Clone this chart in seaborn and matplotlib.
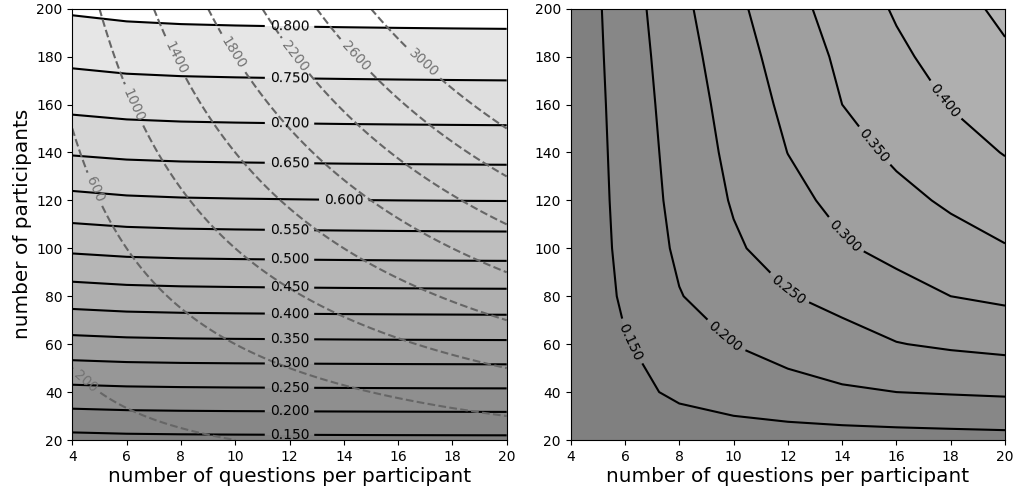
import numpy as np
import matplotlib
matplotlib.use("Agg")
import matplotlib.pyplot as plt
from matplotlib.colors import Normalize
import seaborn as sns

# ---------------- data ----------------
questions = [4, 6, 8, 10, 12, 14, 16, 18, 20]            # x grid
participants = [20, 40, 60, 80, 100, 120, 140, 160, 180, 200]  # y grid

# left panel field: one row per number of participants
left_values = [
    [0.1340, 0.1367, 0.1379, 0.1385, 0.1389, 0.1393, 0.1396, 0.1398, 0.1400],
    [0.2350, 0.2383, 0.2397, 0.2405, 0.2410, 0.2414, 0.2418, 0.2421, 0.2423],
    [0.3327, 0.3368, 0.3387, 0.3396, 0.3402, 0.3408, 0.3413, 0.3416, 0.3419],
    [0.4243, 0.4298, 0.4323, 0.4335, 0.4344, 0.4351, 0.4357, 0.4362, 0.4366],
    [0.5091, 0.5151, 0.5178, 0.5192, 0.5201, 0.5209, 0.5216, 0.5221, 0.5225],
    [0.5867, 0.5931, 0.5960, 0.5974, 0.5984, 0.5993, 0.6000, 0.6006, 0.6010],
    [0.6542, 0.6599, 0.6625, 0.6637, 0.6646, 0.6654, 0.6660, 0.6665, 0.6669],
    [0.7122, 0.7180, 0.7206, 0.7219, 0.7228, 0.7236, 0.7242, 0.7247, 0.7251],
    [0.7622, 0.7677, 0.7702, 0.7714, 0.7723, 0.7730, 0.7736, 0.7741, 0.7745],
    [0.8060, 0.8116, 0.8141, 0.8154, 0.8163, 0.8170, 0.8176, 0.8181, 0.8185],
]

# right panel field
right_values = [
    [0.103, 0.113, 0.118, 0.1255, 0.1285, 0.1303, 0.132, 0.1337, 0.1353],
    [0.105, 0.133, 0.160, 0.174, 0.185, 0.194, 0.200, 0.2035, 0.2068],
    [0.107, 0.147, 0.1739, 0.2005, 0.2157, 0.231, 0.2483, 0.2566, 0.2629],
    [0.109, 0.1573, 0.198, 0.2231, 0.2473, 0.2654, 0.2827, 0.300, 0.309],
    [0.110, 0.1625, 0.2079, 0.2437, 0.270, 0.2946, 0.313, 0.330, 0.347],
    [0.111, 0.1654, 0.2143, 0.254, 0.286, 0.313, 0.336, 0.3576, 0.376],
    [0.112, 0.1676, 0.2188, 0.2617, 0.3005, 0.331, 0.359, 0.381, 0.402],
    [0.113, 0.170, 0.2236, 0.2688, 0.311, 0.350, 0.376, 0.402, 0.423],
    [0.114, 0.173, 0.229, 0.278, 0.321, 0.359, 0.391, 0.418, 0.443],
    [0.115, 0.176, 0.2365, 0.288, 0.3325, 0.371, 0.405, 0.433, 0.460],
]

left_fill_levels = [0.10, 0.15, 0.20, 0.25, 0.30, 0.35, 0.40, 0.45, 0.50,
                    0.55, 0.60, 0.65, 0.70, 0.75, 0.80]
left_line_levels = [0.15, 0.20, 0.25, 0.30, 0.35, 0.40, 0.45, 0.50,
                    0.55, 0.60, 0.65, 0.70, 0.75, 0.80]
right_fill_levels = [0.10, 0.15, 0.20, 0.25, 0.30, 0.35, 0.40, 0.45, 0.50]
right_line_levels = [0.15, 0.20, 0.25, 0.30, 0.35, 0.40, 0.45]
right_label_levels = [0.15, 0.20, 0.25, 0.30, 0.35, 0.40]
total_levels = [200, 600, 1000, 1400, 1800, 2200, 2600, 3000]

xticks = [4, 6, 8, 10, 12, 14, 16, 18, 20]
yticks = [20, 40, 60, 80, 100, 120, 140, 160, 180, 200]
xlabel = "number of questions per participant"
ylabel = "number of participants"

# ---------------- label placement (layout only) ----------------
left_label_pos = [(12, 192), (12, 170), (12, 151.5), (12, 135.5), (14, 120),
                  (12, 107), (12, 95), (12, 83.5), (12, 72.5), (12, 62),
                  (12, 51.5), (12, 41.7), (12, 31.8), (12, 22)]
total_label_pos = [(4.7, 47), (4.9, 125), (6.3, 160), (7.9, 180), (10.0, 182),
                   (12.3, 181), (14.5, 181), (17.0, 178)]
right_label_pos = [(6.0, 60), (9.6, 62), (11.95, 82), (14.0, 104),
                   (15.1, 142), (17.7, 161)]

# ---------------- style ----------------
sns.set_style("ticks", {"axes.edgecolor": "black", "xtick.color": "black",
                        "ytick.color": "black", "text.color": "black",
                        "axes.labelcolor": "black"})
plt.rcParams["font.family"] = ["DejaVu Sans"]
plt.rcParams["xtick.labelsize"] = 10
plt.rcParams["ytick.labelsize"] = 10
plt.rcParams["xtick.major.size"] = 3.5
plt.rcParams["ytick.major.size"] = 3.5
plt.rcParams["axes.linewidth"] = 0.8

norm = Normalize(vmin=-0.69, vmax=0.94)

fig = plt.figure(figsize=(10.16, 4.95), dpi=100)
ax1 = fig.add_axes([0.0712, 0.1111, 0.4275, 0.8713])
ax2 = fig.add_axes([0.5617, 0.1111, 0.4275, 0.8713])

X = np.array(questions, dtype=float)
Y = np.array(participants, dtype=float)

# left panel
ax1.contourf(X, Y, np.array(left_values), levels=left_fill_levels,
             cmap="gray", norm=norm)
cs1 = ax1.contour(X, Y, np.array(left_values), levels=left_line_levels,
                  colors="black", linewidths=1.5)
ax1.clabel(cs1, fmt="%.3f", fontsize=10, inline=True, manual=left_label_pos)

# total number of answers (questions x participants)
gx = np.linspace(questions[0], questions[-1], 161)
gy = np.linspace(participants[0], participants[-1], 181)
total = np.outer(gy, gx)
cs_t = ax1.contour(gx, gy, total, levels=total_levels, colors="0.4",
                   linestyles="--", linewidths=1.5)
ax1.clabel(cs_t, fmt="%d", fontsize=10, inline=True, colors="0.45",
           manual=total_label_pos)

# right panel
ax2.contourf(X, Y, np.array(right_values), levels=right_fill_levels,
             cmap="gray", norm=norm)
cs2 = ax2.contour(X, Y, np.array(right_values), levels=right_line_levels,
                  colors="black", linewidths=1.5)
ax2.clabel(cs2, levels=right_label_levels, fmt="%.3f", fontsize=10,
           inline=True, manual=right_label_pos)

for ax in (ax1, ax2):
    ax.set_xlim(questions[0], questions[-1])
    ax.set_ylim(participants[0], participants[-1])
    ax.set_xticks(xticks)
    ax.set_yticks(yticks)
    ax.set_xlabel(xlabel, fontsize=14.4, labelpad=2)
ax1.set_ylabel(ylabel, fontsize=14.4, labelpad=3)

fig.savefig("out.png", dpi=100)
